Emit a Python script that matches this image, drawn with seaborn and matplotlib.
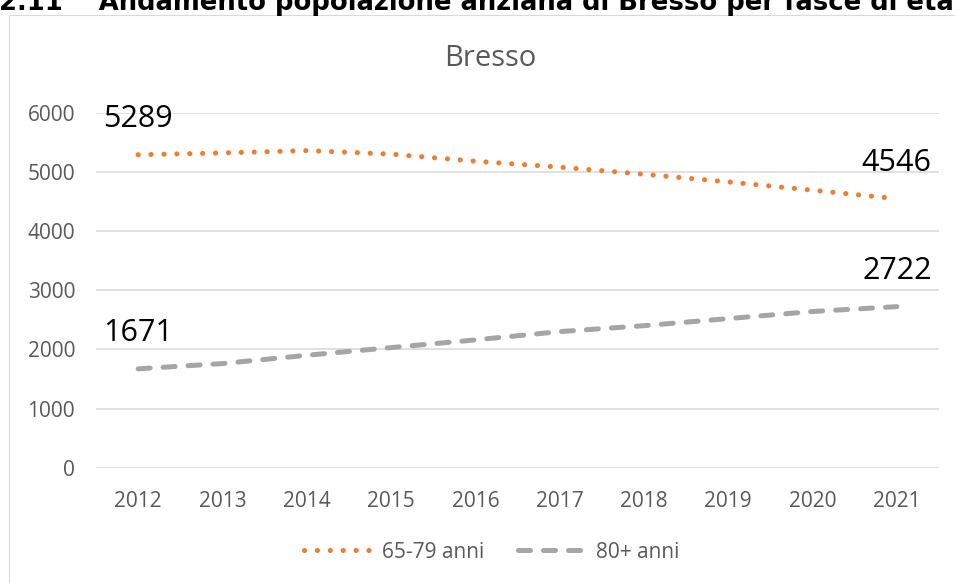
import matplotlib
matplotlib.use("Agg")
import matplotlib.pyplot as plt
from matplotlib.patches import Rectangle
import seaborn as sns
import pandas as pd

# ---- data ----
years = ["2012", "2013", "2014", "2015", "2016", "2017", "2018", "2019", "2020", "2021"]
anni_65_79 = [5289, 5320, 5360, 5300, 5180, 5080, 4960, 4830, 4690, 4546]
anni_80 = [1671, 1760, 1900, 2030, 2160, 2300, 2400, 2520, 2640, 2722]
series_names = ["65-79 anni", "80+ anni"]
yticks = [0, 1000, 2000, 3000, 4000, 5000, 6000]
chart_title = "Bresso"
doc_title = "2.11    Andamento popolazione anziana di Bresso per fasce di età"

df = pd.DataFrame({"anno": years, series_names[0]: anni_65_79, series_names[1]: anni_80})

sns.set_theme(style="white")
plt.rcParams["font.family"] = ["Open Sans", "DejaVu Sans"]

W, H = 955, 583
fig = plt.figure(figsize=(W / 100, H / 100), dpi=100)
ax = fig.add_axes([96 / W, 1 - 467.7 / H, (939 - 96) / W, (467.7 - 112.7) / H])

orange = "#ED7D31"
gray = "#A5A5A5"
txt = "#595959"

sns.lineplot(data=df, x="anno", y=series_names[0], ax=ax, color=orange, lw=3.7,
             linestyle=(0, (0.01, 2.5)), dash_capstyle="round", label=series_names[0],
             legend=False)
sns.lineplot(data=df, x="anno", y=series_names[1], ax=ax, color=gray, lw=3.6,
             linestyle=(0, (2.4, 2.6)), dash_capstyle="round", label=series_names[1],
             legend=False)

ax.set_xlim(-0.5, len(years) - 0.5)
ax.set_ylim(0, 6000)
ax.set_yticks(yticks)
ax.set_xlabel("")
ax.set_ylabel("")
for s in ax.spines.values():
    s.set_visible(False)
ax.yaxis.grid(True, color="#D9D9D9", lw=1.1)
ax.xaxis.grid(False)
ax.set_axisbelow(True)
ax.tick_params(axis="both", length=0, labelsize=15, labelcolor=txt)
ax.tick_params(axis="y", pad=15)
ax.tick_params(axis="x", pad=17)

# data labels at first and last points
for vals in (anni_65_79, anni_80):
    for i in (0, len(years) - 1):
        ax.annotate(str(vals[i]), (i, vals[i]), xytext=(0, 26), textcoords="offset points",
                    ha="center", va="center", fontsize=22, color="black")

# chart title
fig.text(490 / W, 1 - 59 / H, chart_title, ha="center", va="center", fontsize=21, color=txt)

# legend
handles, labels = ax.get_legend_handles_labels()
leg = fig.legend(handles, labels, loc="center", bbox_to_anchor=(491.7 / W, 1 - 552 / H), ncol=2,
                 frameon=False, fontsize=15, handlelength=3.25, handletextpad=0.5,
                 columnspacing=1.6)
for t in leg.get_texts():
    t.set_color(txt)

# chart area border
fig.patches.append(Rectangle((8.5 / W, -0.5), 2, 1.5 - 14.5 / H, transform=fig.transFigure,
                             fill=False, edgecolor="#D9D9D9", lw=0.8))

# document heading (cut at top, as in the source page)
fig.text(-1 / W, 1 - 9.5 / H, doc_title, ha="left", va="baseline", fontsize=18.6,
         fontweight="bold", color="black", family=["DejaVu Sans"])

fig.savefig("out.png", dpi=100, facecolor="white")
